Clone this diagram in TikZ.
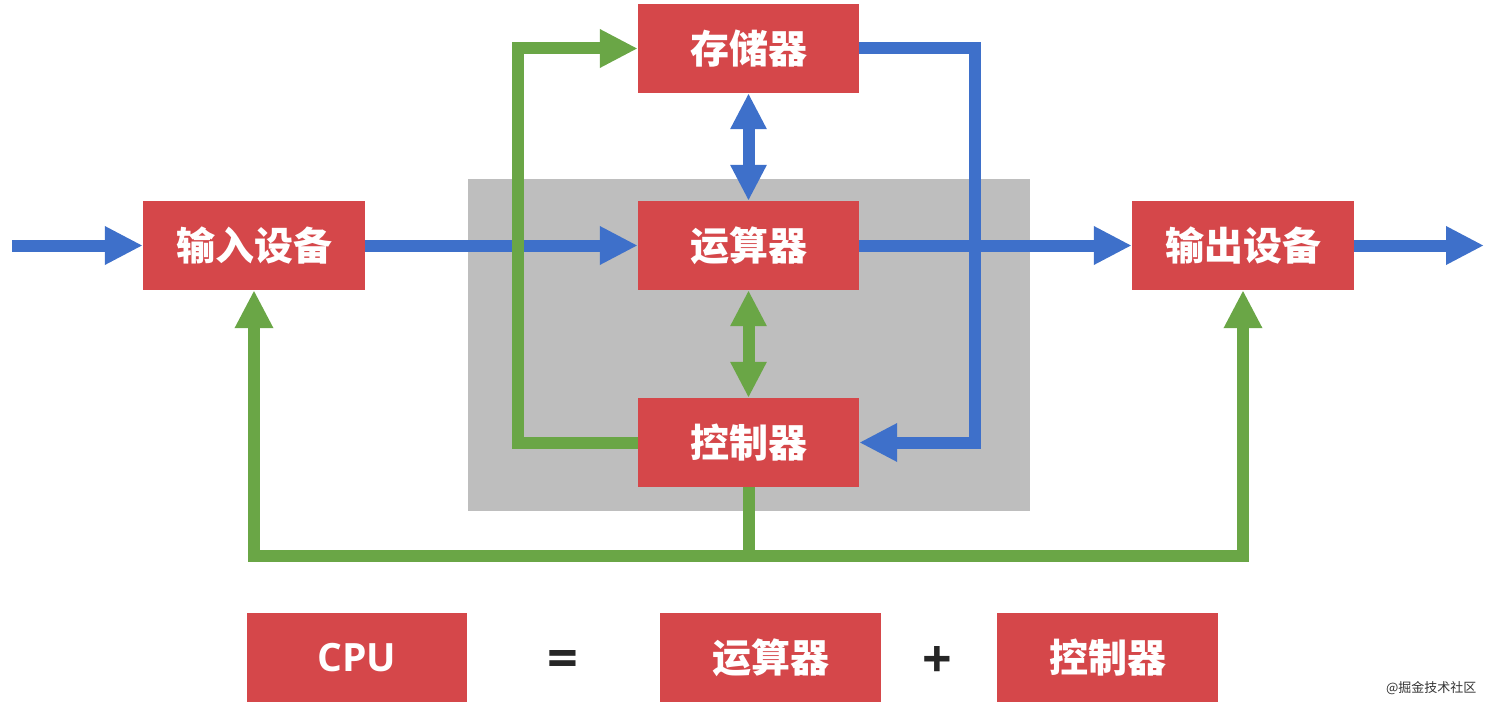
\documentclass[tikz,border=0pt]{standalone}
\usepackage{fontspec}
\usetikzlibrary{arrows.meta}
\newfontfamily\cjk{Noto Sans CJK SC}
\newfontfamily\latinb{Open Sans}
\definecolor{boxred}{HTML}{D5474A}
\definecolor{flowblue}{HTML}{3E70CA}
\definecolor{flowgreen}{HTML}{6AA646}
\definecolor{cpugray}{HTML}{BEBEBE}
\tikzset{
  unitbox/.style={fill=boxred, text=white, minimum width=221pt, minimum height=89pt, inner sep=0pt, font=\cjk\bfseries\fontsize{39}{39}\selectfont},
  flowline/.style={line width=12pt, line join=miter, line cap=butt},
  tipone/.style={-{Triangle[length=38pt,width=36pt]}},
  tiptwo/.style={{Triangle[length=36pt,width=34pt]}-{Triangle[length=36pt,width=34pt]}},
  blueflow/.style={flowline, draw=flowblue, tipone},
  greenflow/.style={flowline, draw=flowgreen, tipone},
  greenplain/.style={flowline, draw=flowgreen},
}
\begin{document}
\begin{tikzpicture}[x=1pt,y=-1pt]
\useasboundingbox (0,0) rectangle (1492,709);
% CPU background
\fill[cpugray] (468,179) rectangle (1030,511);
% nodes
\node[unitbox] (mem) at (748.5,48.5) {存储器};
\node[unitbox] (alu) at (748.5,245.5) {运算器};
\node[unitbox] (ctl) at (748.5,442.5) {控制器};
\node[unitbox, minimum width=222pt] (in) at (254,245.5) {输入设备};
\node[unitbox, minimum width=222pt] (out) at (1243,245.5) {输出设备};
% coordinates
\coordinate (inS) at (12,245.5);
\coordinate (outE) at (1484,245.5);
\coordinate (gl) at (518,48.5);
\coordinate (br) at (975,48.5);
\coordinate (gb) at (748.5,556);
% blue flows
\draw[blueflow] (inS) -- (in.west);
\draw[blueflow] (in.east) -- (alu.west);
\draw[blueflow] (alu.east) -- (out.west);
\draw[blueflow] (out.east) -- (outE);
\draw[blueflow] (mem.east) -| (br) |- (ctl.east);
\draw[flowline, draw=flowblue, tiptwo] (mem.south) -- (alu.north);
% green flows
\draw[greenflow] (ctl.west) -| (gl) -- (mem.west);
\draw[flowline, draw=flowgreen, tiptwo] (alu.south) -- (ctl.north);
\draw[greenplain] (ctl.south) -- (gb);
\draw[greenflow] (gb) -| (in.south);
\draw[greenflow] (gb) -| (out.south);
% formula
\node[unitbox, minimum width=220pt, font=\latinb\bfseries\fontsize{39}{39}\selectfont] (cpu) at (357,657.5) {CPU};
\node[font=\latinb\bfseries\fontsize{54}{54}\selectfont, text=black!85] (eq) at (563,664) {=};
\node[unitbox] (alu2) at (770.5,657.5) {运算器};
\node[font=\latinb\bfseries\fontsize{52}{52}\selectfont, text=black!85] (plus) at (937,662) {+};
\node[unitbox] (ctl2) at (1107.5,657.5) {控制器};
% watermark
\node[font=\cjk\fontsize{13}{13}\selectfont, text=black!80, anchor=east] (wm) at (1480,688) {@掘金技术社区};
\end{tikzpicture}
\end{document}
